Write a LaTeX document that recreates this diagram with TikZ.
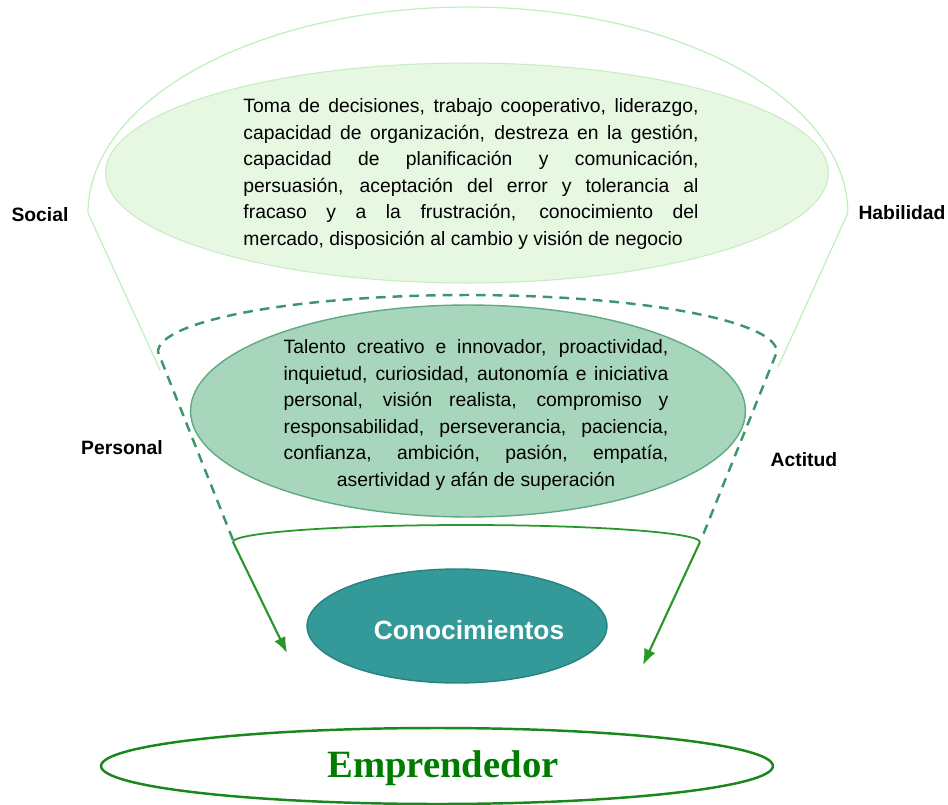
\documentclass[tikz,border=0pt]{standalone}
\usepackage{fontspec}
\setmainfont{Liberation Sans}
\newfontfamily\empfont{Liberation Serif}
\usetikzlibrary{shapes.geometric,arrows.meta}

\definecolor{lightline}{RGB}{190,240,190}
\definecolor{topfill}{RGB}{230,247,226}
\definecolor{topdraw}{RGB}{200,236,195}
\definecolor{dashgreen}{RGB}{60,150,105}
\definecolor{midfill}{RGB}{168,214,188}
\definecolor{middraw}{RGB}{95,170,130}
\definecolor{arrowgreen}{RGB}{40,150,40}
\definecolor{tealfill}{RGB}{51,153,153}
\definecolor{tealdraw}{RGB}{40,130,130}
\definecolor{empgreen}{RGB}{25,135,25}
\definecolor{emptext}{RGB}{0,125,0}

% one justified line of fixed width
\newcommand{\jline}[2]{\makebox[#1][s]{#2}}

\begin{document}
\begin{tikzpicture}[x=0.02cm, y=-0.02cm,
    blob/.style={ellipse, inner sep=0pt},
    para/.style={font=\fontsize{11}{15.1}\selectfont, inner sep=0pt},
    side/.style={font=\fontsize{11}{13}\selectfont\bfseries, text=black},
    arrowline/.style={arrowgreen, line width=1.2pt, -{Latex[length=9pt,width=7pt]}}]
  \useasboundingbox (0,0) rectangle (948,805);

  % outer funnel
  \draw[lightline, line width=0.7pt] (160,370) -- (88,213)
    arc[start angle=180, end angle=0, x radius=7.6cm, y radius=4.12cm] -- (778,367);
  % inner funnel
  \draw[dashgreen, line width=1.4pt, dash pattern=on 5.5pt off 4pt] (233,540) -- (158,352)
    arc[start angle=180, end angle=0, x radius=6.19cm, y radius=1.14cm] -- (701,540);

  \node[blob, fill=topfill, draw=topdraw, line width=0.6pt,
    minimum width=14.46cm, minimum height=4.4cm] (habilidades) at (467,173) {};
  \node[para, align=left] (habtext) at (471,174) {%
    \jline{259pt}{Toma de decisiones, trabajo cooperativo, liderazgo,}\\
    \jline{259pt}{capacidad de organización, destreza en la gestión,}\\
    \jline{259pt}{capacidad de planificación y comunicación,}\\
    \jline{259pt}{persuasión, aceptación del error y tolerancia al}\\
    \jline{259pt}{fracaso y a la frustración, conocimiento del}\\
    mercado, disposición al cambio y visión de negocio};

  \node[blob, fill=midfill, draw=middraw, line width=0.8pt,
    minimum width=11.1cm, minimum height=4.24cm] (actitudes) at (468,411) {};
  \node[para, align=center] (acttext) at (476,415) {%
    \jline{219pt}{Talento creativo e innovador, proactividad,}\\
    \jline{219pt}{inquietud, curiosidad, autonomía e iniciativa}\\
    \jline{219pt}{personal, visión realista, compromiso y}\\
    \jline{219pt}{responsabilidad, perseverancia, paciencia,}\\
    \jline{219pt}{confianza, ambición, pasión, empatía,}\\
    asertividad y afán de superación};

  % bracket and arrows
  \coordinate (bl) at (233,542);
  \coordinate (br) at (700,542);
  \coordinate (al) at (287,653);
  \coordinate (ar) at (643,665);
  \draw[arrowgreen, line width=1pt] (bl)
    arc[start angle=180, end angle=0, x radius=4.67cm, y radius=0.34cm];
  \draw[arrowline] (bl) -- (al);
  \draw[arrowline] (br) -- (ar);

  \node[blob, fill=tealfill, draw=tealdraw, line width=0.8pt,
    minimum width=6cm, minimum height=2.28cm] (conoc) at (457,626) {};
  \node[font=\fontsize{15}{18}\selectfont\bfseries, text=white] (conoctext) at (469,630) {Conocimientos};

  \node[blob, draw=empgreen, line width=1.4pt,
    minimum width=13.44cm, minimum height=1.52cm] (empr) at (437,766) {};
  \node[font=\empfont\bfseries\fontsize{22}{26}\selectfont, text=emptext] (emprtext) at (443,768) {Emprendedor};

  % side labels
  \node[side] (lsocial) at (40,215) {Social};
  \node[side] (lhabil) at (902,213) {Habilidad};
  \node[side] (lpersonal) at (122,448) {Personal};
  \node[side] (lactitud) at (804,460) {Actitud};
\end{tikzpicture}
\end{document}
